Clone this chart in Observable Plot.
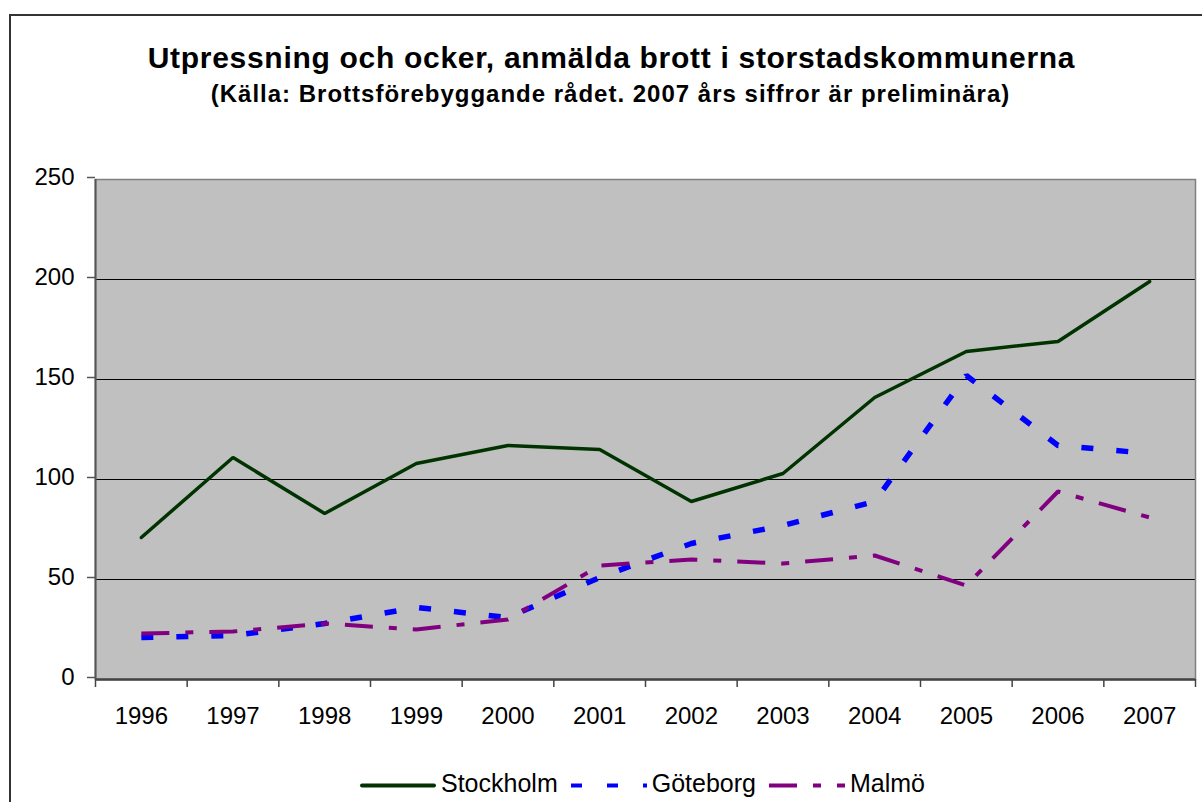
<!DOCTYPE html>
<html><head><meta charset="utf-8">
<script src="https://cdn.jsdelivr.net/npm/d3@7"></script>
<script src="https://cdn.jsdelivr.net/npm/@observablehq/plot@0.6"></script>
<style>
html,body{margin:0;padding:0}
body{width:1202px;height:802px;overflow:hidden;background:#fff;position:relative;font-family:"Liberation Sans",Arial,sans-serif;color:#000}
#border{position:absolute;left:9px;top:14px;width:1260px;height:860px;border-left:2px solid #333;border-top:2px solid #333}
#title{position:absolute;left:0;width:1223px;top:42.9px;text-align:center;font-weight:bold;font-size:30px;line-height:30px;letter-spacing:0.7px;white-space:nowrap}
#subtitle{position:absolute;left:0;width:1221px;top:82.4px;text-align:center;font-weight:bold;font-size:24px;line-height:24px;letter-spacing:1px;white-space:nowrap}
#chart{position:absolute;left:0;top:150px}
#legend{position:absolute;left:360px;top:770.5px;display:flex;align-items:flex-start;font-size:25px;line-height:25px;white-space:nowrap}
#legend svg{display:block}
#legend .lab{margin-left:5px;margin-right:13px}
</style>
</head><body>
<div id="border"></div>
<div id="title">Utpressning och ocker, anmälda brott i storstadskommunerna</div>
<div id="subtitle">(Källa: Brottsförebyggande rådet. 2007 års siffror är preliminära)</div>
<div id="chart"></div>
<div id="legend"></div>
<script>
const years = [1996, 1997, 1998, 1999, 2000, 2001, 2002, 2003, 2004, 2005, 2006, 2007];
const stockholm = [71, 111, 83, 108, 117, 115, 89, 103, 141, 164, 169, 199];
const goteborg  = [21, 22, 28, 36, 31, 51, 68, 77, 89, 152, 117, 113];
const malmo     = [23, 24, 28, 25, 30, 57, 60, 58, 62, 47, 94, 81];
const cities = ["Stockholm", "Göteborg", "Malmö"];
const yTicks = [0, 50, 100, 150, 200, 250];

const seriesValues = [stockholm, goteborg, malmo];
const styles = {
  "Stockholm": {stroke: "#003300", strokeWidth: 3.5, dash: null, cap: "round"},
  "Göteborg":  {stroke: "#0000ff", strokeWidth: 5.5, dash: "12,23", cap: "butt"},
  "Malmö":     {stroke: "#800080", strokeWidth: 4, dash: "28,16,8,16", cap: "butt"}
};

const rows = cities.flatMap((c, k) => years.map((yr, i) => ({city: c, year: yr, value: seriesValues[k][i]})));
const xDomain = [years[0] - 0.5, years[years.length - 1] + 0.5];
const boundaries = years.map(y => y - 0.5).concat([years[years.length - 1] + 0.5]);
const gridTicks = yTicks.filter(d => d > yTicks[0] && d < yTicks[yTicks.length - 1]);

const lineMarks = cities.map(c => {
  const s = styles[c];
  return Plot.line(rows.filter(r => r.city === c), {
    x: "year", y: "value", stroke: s.stroke, strokeWidth: s.strokeWidth,
    strokeDasharray: s.dash || undefined, strokeLinecap: s.cap, strokeLinejoin: "miter", curve: "linear"
  });
});

const chart = Plot.plot({
  width: 1202,
  height: 600,
  marginTop: 29,
  marginBottom: 71,
  marginLeft: 95,
  marginRight: 7,
  style: {fontFamily: '"Liberation Sans", Arial, sans-serif', fontSize: "24px", color: "#000", background: "transparent"},
  x: {type: "linear", domain: xDomain, label: null},
  y: {domain: [yTicks[0], yTicks[yTicks.length - 1]], label: null},
  marks: [
    Plot.frame({fill: "#c0c0c0", stroke: null}),
    Plot.ruleY(gridTicks, {stroke: "#000", strokeWidth: 1}),
    Plot.frame({stroke: "#808080", strokeWidth: 1.5, fill: null}),
    Plot.ruleY([yTicks[0]], {stroke: "#444", strokeWidth: 2.5}),
    Plot.ruleX([xDomain[0]], {stroke: "#555", strokeWidth: 2}),
    ...lineMarks,
    Plot.axisX(boundaries, {tickSize: 8, tickFormat: () => "", stroke: "#444", strokeWidth: 1.5, label: null}),
    Plot.axisX(years, {tickSize: 0, tickPadding: 27, tickFormat: d => String(d), fontSize: 24, fill: "#000", label: null}),
    Plot.axisY(yTicks, {tickSize: 8, tickPadding: 13, fontSize: 24, fill: "#000", stroke: "#555", strokeWidth: 1.5, dy: -2, label: null})
  ]
});
document.getElementById("chart").appendChild(chart);

// Legend
const legend = document.getElementById("legend");
const ns = "http://www.w3.org/2000/svg";
cities.forEach(c => {
  const s = styles[c];
  const svg = document.createElementNS(ns, "svg");
  svg.setAttribute("width", 76);
  svg.setAttribute("height", 25);
  const ln = document.createElementNS(ns, "line");
  const pad = s.cap === "round" ? 2 : 0;
  ln.setAttribute("x1", pad);
  ln.setAttribute("x2", 76 - pad);
  ln.setAttribute("y1", 14.5);
  ln.setAttribute("y2", 14.5);
  ln.setAttribute("stroke", s.stroke);
  ln.setAttribute("stroke-width", 4);
  ln.setAttribute("stroke-linecap", s.cap);
  if (s.dash) ln.setAttribute("stroke-dasharray", c === "Göteborg" ? "11,25" : s.dash);
  svg.appendChild(ln);
  legend.appendChild(svg);
  const lab = document.createElement("span");
  lab.className = "lab";
  lab.textContent = c;
  legend.appendChild(lab);
});
</script>
</body></html>
